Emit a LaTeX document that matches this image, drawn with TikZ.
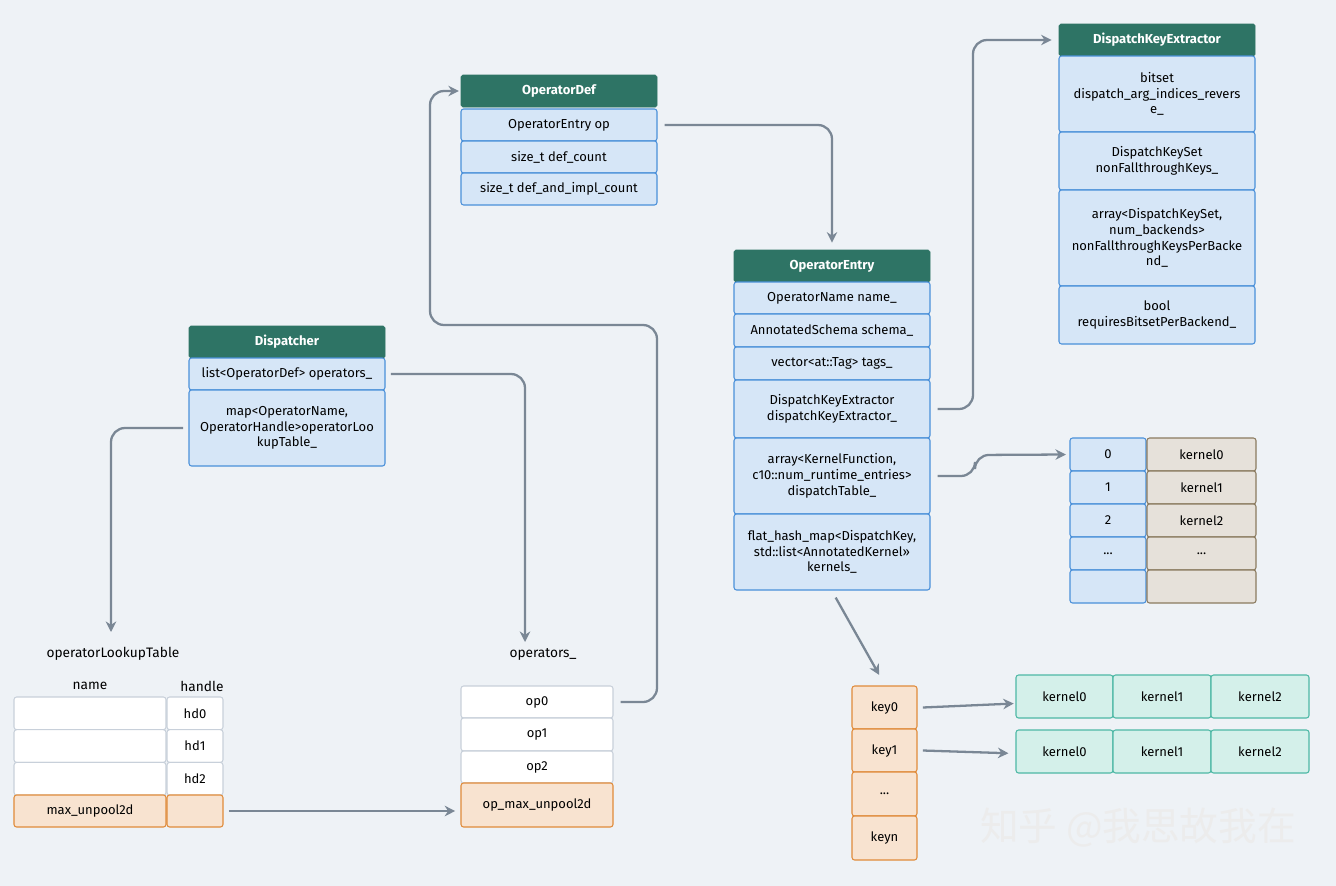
\documentclass[tikz,border=0pt]{standalone}
\usepackage{fontspec}
\setmainfont{Fira Sans}
\newfontfamily\cjk{Noto Sans CJK SC}
\usetikzlibrary{arrows.meta}
\definecolor{bgcol}{HTML}{EEF2F6}
\definecolor{headc}{HTML}{2E7465}
\definecolor{bluef}{HTML}{D6E6F7}
\definecolor{blued}{HTML}{4A90D9}
\definecolor{orf}{HTML}{F8E3D0}
\definecolor{ord}{HTML}{E08B3A}
\definecolor{tlf}{HTML}{D4F0EA}
\definecolor{tld}{HTML}{4DB8A5}
\definecolor{bgf}{HTML}{E6E1DA}
\definecolor{bgd}{HTML}{8B7B60}
\definecolor{wd}{HTML}{C8D0DA}
\definecolor{arc}{HTML}{7A8795}
\newcommand\ddd{...}
\tikzset{
  every node/.style={font=\fontsize{7.4}{9}\selectfont,inner sep=0pt,align=center},
  head/.style={fill=headc,draw=headc,text=white,rounded corners=1pt,font=\fontsize{7.4}{9}\selectfont\bfseries},
  fld/.style={fill=bluef,draw=blued,line width=0.6pt,rounded corners=1.5pt},
  orc/.style={fill=orf,draw=ord,line width=0.6pt,rounded corners=1.5pt},
  tlc/.style={fill=tlf,draw=tld,line width=0.6pt,rounded corners=1.5pt},
  brc/.style={fill=bgf,draw=bgd,line width=0.6pt,rounded corners=1.5pt},
  whc/.style={fill=white,draw=wd,line width=0.6pt,rounded corners=1.5pt},
  lbl/.style={font=\fontsize{7.8}{9}\selectfont},
  link/.style={draw=arc,line width=1.3pt,rounded corners=8pt,-{Stealth[length=6pt,width=6pt]}}
}
% cell: style, name, x1, y1, x2, y2, text
\newcommand\cell[7]{%
  \pgfmathsetmacro\cw{(#5-#3)*0.02}\pgfmathsetmacro\ch{(#6-#4)*0.02}%
  \node[#1,minimum width=\cw cm,minimum height=\ch cm] (#2) at ({(#3+#5)/2},{(#4+#6)/2}) {#7};}
\begin{document}
\begin{tikzpicture}[x=0.02cm,y=-0.02cm]
\fill[bgcol] (0,0) rectangle (1336,886);
\useasboundingbox (0,0) rectangle (1336,886);
% OperatorDef
\cell{head}{defh}{461}{75}{657}{107}{OperatorDef}
\cell{fld}{defop}{461}{109}{657}{141}{OperatorEntry op}
\cell{fld}{defcnt}{461}{141}{657}{173}{size\_t def\_count}
\cell{fld}{defimpl}{461}{173}{657}{205}{size\_t def\_and\_impl\_count}
% OperatorEntry
\cell{head}{enth}{734}{250}{930}{282}{OperatorEntry}
\cell{fld}{entname}{734}{282}{930}{314}{OperatorName name\_}
\cell{fld}{entsch}{734}{314}{930}{347}{AnnotatedSchema schema\_}
\cell{fld}{enttag}{734}{347}{930}{380}{vector<at::Tag> tags\_}
\cell{fld}{entext}{734}{380}{930}{438}{DispatchKeyExtractor\\dispatchKeyExtractor\_}
\cell{fld}{enttab}{734}{438}{930}{514}{array<KernelFunction,\\c10::num\_runtime\_entries>\\dispatchTable\_}
\cell{fld}{entker}{734}{514}{930}{590}{flat\_hash\_map<DispatchKey,\\std::list<AnnotatedKernel>>\\kernels\_}
% DispatchKeyExtractor
\cell{head}{exth}{1059}{24}{1255}{56}{DispatchKeyExtractor}
\cell{fld}{extbit}{1059}{56}{1255}{132}{bitset\\dispatch\_arg\_indices\_revers\\e\_}
\cell{fld}{extset}{1059}{132}{1255}{190}{DispatchKeySet\\nonFallthroughKeys\_}
\cell{fld}{extarr}{1059}{190}{1255}{286}{array<DispatchKeySet,\\num\_backends>\\nonFallthroughKeysPerBacke\\nd\_}
\cell{fld}{extbool}{1059}{286}{1255}{344}{bool\\requiresBitsetPerBackend\_}
% Dispatcher
\cell{head}{dish}{189}{326}{385}{358}{Dispatcher}
\cell{fld}{disops}{189}{358}{385}{390}{list<OperatorDef> operators\_}
\cell{fld}{dismap}{189}{390}{385}{466}{map<OperatorName,\\OperatorHandle>operatorLoo\\kupTable\_}
% dispatch table
\foreach \i/\t/\k in {0/0/kernel0,1/1/kernel1,2/2/kernel2,3/\ddd/\ddd,4/{}/{}} {
  \pgfmathsetmacro\ya{438+33*\i}\pgfmathsetmacro\yb{\ya+33}
  \cell{fld}{idx\i}{1070}{\ya}{1146}{\yb}{\t}
  \cell{brc}{krn\i}{1147}{\ya}{1256}{\yb}{\k}
}
% keys
\cell{orc}{key0}{852}{686}{917}{729}{key0}
\cell{orc}{key1}{852}{729}{917}{772}{key1}
\cell{orc}{keyd}{852}{772}{917}{816}{\ddd}
\cell{orc}{keyn}{852}{816}{917}{860}{keyn}
\foreach \r/\ya/\yb in {a/675/718,b/730/773} {
  \cell{tlc}{\r k0}{1016}{\ya}{1113}{\yb}{kernel0}
  \cell{tlc}{\r k1}{1113}{\ya}{1211}{\yb}{kernel1}
  \cell{tlc}{\r k2}{1211}{\ya}{1309}{\yb}{kernel2}
}
% operators_
\node[lbl] (opslbl) at (543,654) {operators\_};
\cell{whc}{op0}{461}{686}{613}{718}{op0}
\cell{whc}{op1}{461}{718}{613}{751}{op1}
\cell{whc}{op2}{461}{751}{613}{783}{op2}
\cell{orc}{opmax}{461}{783}{613}{827}{op\_max\_unpool2d}
% operatorLookupTable
\node[lbl] (lutlbl) at (113,654) {operatorLookupTable};
\node[lbl] (namelbl) at (90,686) {name};
\node[lbl] (handlbl) at (202,686) {handle};
\foreach \i/\h in {0/hd0,1/hd1,2/hd2} {
  \pgfmathsetmacro\ya{697+32.7*\i}\pgfmathsetmacro\yb{\ya+32.7}
  \cell{whc}{nm\i}{14}{\ya}{166}{\yb}{}
  \cell{whc}{hd\i}{167}{\ya}{223}{\yb}{\h}
}
\cell{orc}{nmmax}{14}{795}{166}{827}{max\_unpool2d}
\cell{orc}{hdmax}{167}{795}{223}{827}{}
% connectors
\coordinate (opsin) at (525,642);
\coordinate (lutin) at (111,632);
\draw[link] ([xshift=3pt]disops.east) -| (opsin);
\draw[link] ([xshift=-3pt]dismap.west) -| (lutin);
\draw[link] ([xshift=4pt]op0.east) -| (657,325) -| (430,91) -- ([xshift=-1pt]defh.west);
\draw[link] ([xshift=4pt]defop.east) -| ([yshift=4pt]enth.north);
\draw[link] ([xshift=4pt]entext.east) -| (973,40) -- ([xshift=-4pt]exth.west);
\draw[link] ([xshift=4pt]enttab.east) -| (975,455) -- ([xshift=-2pt]idx0.west);
\draw[link] ([xshift=-54pt,yshift=-4pt]entker.south east) -- ([xshift=-3pt,yshift=6pt]key0.north);
\draw[link] ([xshift=3pt]key0.east) -- ([xshift=-1pt,yshift=-4pt]ak0.west);
\draw[link] ([xshift=3pt]key1.east) -- ([xshift=-4pt,yshift=-1pt]bk0.west);
\draw[link] ([xshift=3pt]hdmax.east) -- ([xshift=-3pt]opmax.west |- hdmax.east);
\node[font=\cjk\fontsize{22}{26}\selectfont,text=white!85!gray] (mark) at (1138,828) {知乎 @我思故我在};
\end{tikzpicture}
\end{document}
